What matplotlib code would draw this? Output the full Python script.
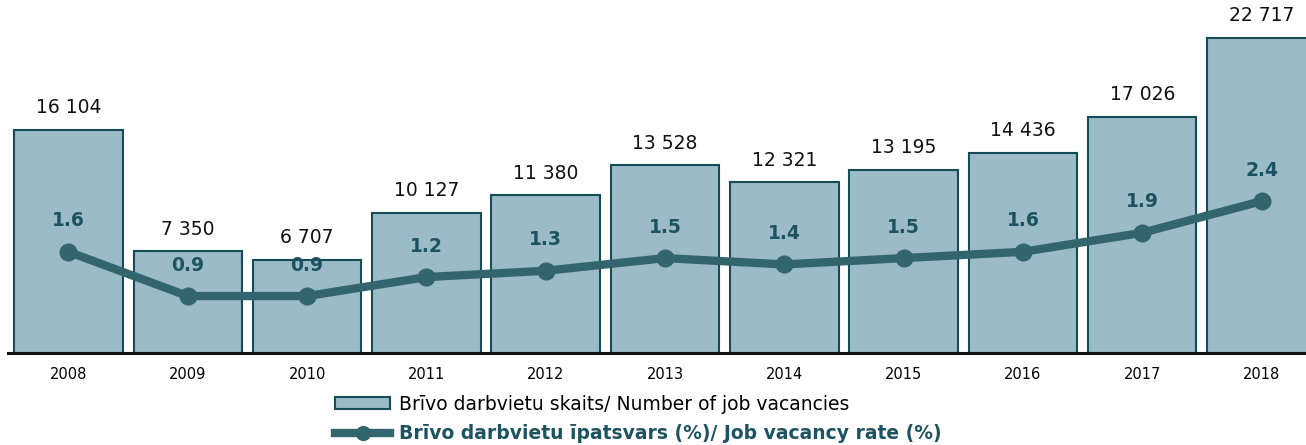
import matplotlib.pyplot as plt
from matplotlib.patches import Patch
from matplotlib.lines import Line2D

years = ["2008", "2009", "2010", "2011", "2012", "2013", "2014", "2015", "2016", "2017", "2018"]
vacancies = [16104, 7350, 6707, 10127, 11380, 13528, 12321, 13195, 14436, 17026, 22717]
rate = [1.6, 0.9, 0.9, 1.2, 1.3, 1.5, 1.4, 1.5, 1.6, 1.9, 2.4]

bar_fill = "#9bbbc6"
bar_edge = "#154c58"
line_col = "#33656f"
label_col = "#1d5360"

plt.rcParams["font.family"] = "DejaVu Sans"

fig = plt.figure(figsize=(13.06, 4.45), dpi=100)
ax = fig.add_axes([8 / 1306, 92 / 445, 1 - 8 / 1306, 353 / 445])
x = list(range(len(years)))

# bars: number of vacancies
ax.bar(x, vacancies, width=0.91, color=bar_fill, edgecolor=bar_edge, linewidth=1.5, zorder=2)
for xi, v in zip(x, vacancies):
    ax.annotate(f"{v:,}".replace(",", " "), (xi, v), xytext=(0, 9), textcoords="offset points",
                ha="center", va="bottom", fontsize=13.5, color="#111111")

ax.set_xlim(-0.507, 10.373)
ax.set_ylim(0, 25450)
ax.set_xticks(x)
ax.set_xticklabels(years, fontsize=10.5)
ax.tick_params(axis="x", length=0, pad=10)
ax.set_yticks([])
for s in ["top", "right", "left"]:
    ax.spines[s].set_visible(False)
ax.spines["bottom"].set_linewidth(2.2)
ax.spines["bottom"].set_color("#111111")
ax.spines["bottom"].set_zorder(5)

# line: vacancy rate on a second axis
ax2 = ax.twinx()
ax2.plot(x, rate, color=line_col, linewidth=6, marker="o", markersize=12, zorder=3,
         solid_capstyle="round")
for xi, r in zip(x, rate):
    ax2.annotate(f"{r:.1f}", (xi, r), xytext=(0, 15.5), textcoords="offset points",
                 ha="center", va="bottom", fontsize=13.5, fontweight="bold", color=label_col)
ax2.set_ylim(0, 5.58)
ax2.set_yticks([])
for s in ax2.spines.values():
    s.set_visible(False)

handles = [
    Patch(facecolor=bar_fill, edgecolor=bar_edge, linewidth=1.5),
    Line2D([0], [0], color=line_col, linewidth=6, marker="o", markersize=10),
]
labels = ["Brīvo darbvietu skaits/ Number of job vacancies",
          "Brīvo darbvietu īpatsvars (%)/ Job vacancy rate (%)"]
leg = fig.legend(handles, labels, loc="lower center", bbox_to_anchor=(0.489, -0.002), ncol=1,
                 frameon=False, fontsize=13.5, handlelength=2.9, handleheight=0.6,
                 handletextpad=0.5, labelspacing=0.55, borderaxespad=0.0, borderpad=0.15)
texts = leg.get_texts()
texts[1].set_fontweight("bold")
texts[1].set_color(label_col)

fig.savefig("out.png", dpi=100)
